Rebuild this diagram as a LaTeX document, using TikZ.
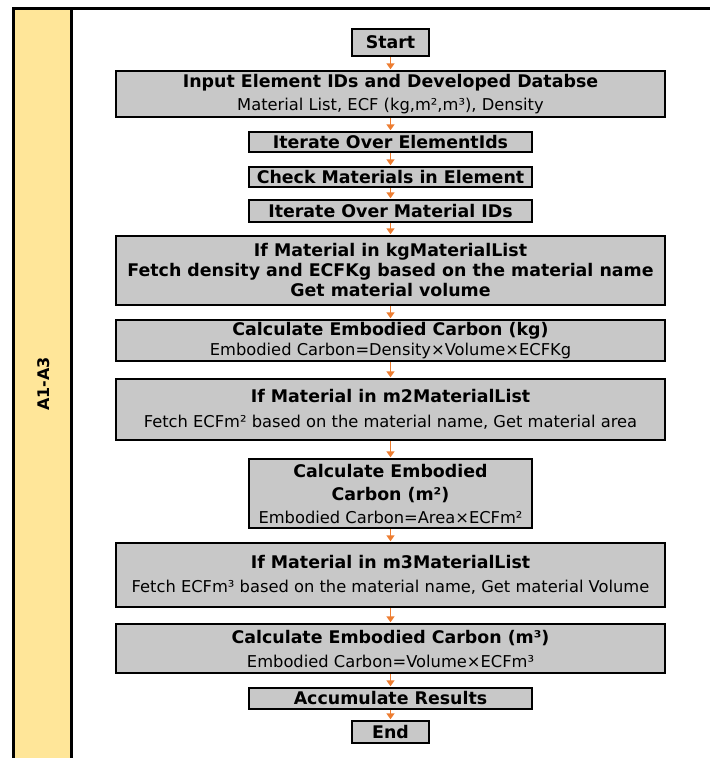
\documentclass[tikz,border=0pt]{standalone}
\usepackage{fontspec}
\setmainfont{DejaVu Sans}
\usetikzlibrary{arrows.meta}
\definecolor{lanefill}{RGB}{255,230,153}
\definecolor{boxfill}{RGB}{200,200,200}
\definecolor{flow}{RGB}{237,125,49}
\newcommand{\flowhead}{\fontsize{17.4}{20}\selectfont\bfseries}
\newcommand{\flowbody}{\fontsize{16.3}{20}\selectfont\mdseries}
\begin{document}
\begin{tikzpicture}[x=1pt,y=-1pt,
  stepbox/.style={draw=black, line width=2.4pt, fill=boxfill, inner sep=0pt,
    align=center, text=black, font=\flowbody},
  flowarrow/.style={draw=flow, line width=1.6pt,
    -{Triangle[width=8pt,length=6pt,fill=flow]}, shorten >=0.5pt}]
\useasboundingbox (0,0) rectangle (710,758);

% swimlane
\fill[lanefill] (13,8) rectangle (71,758);
\draw[line width=3pt] (13,758) -- (13,8) -- (710,8);
\draw[line width=3pt] (71,8) -- (71,758);
\node[rotate=90, font=\fontsize{16}{18}\selectfont\bfseries] (lane) at (44,384) {A1-A3};

% flowchart steps
\node[stepbox, minimum width=77pt, minimum height=27pt] (start) at (390.5,42.5)
  {\flowhead Start};
\node[stepbox, minimum width=549pt, minimum height=46pt] (input) at (390.5,94)
  {\flowhead Input Element IDs and Developed Databse\\[3pt]
   \flowbody Material List, ECF (kg,m²,m³), Density};
\node[stepbox, minimum width=283pt, minimum height=20pt] (iterel) at (390.5,142)
  {\flowhead Iterate Over ElementIds};
\node[stepbox, minimum width=283pt, minimum height=20pt] (check) at (390.5,177)
  {\flowhead Check Materials in Element};
\node[stepbox, minimum width=283pt, minimum height=22pt] (itermat) at (390.5,211)
  {\flowhead Iterate Over Material IDs};
\node[stepbox, minimum width=549pt, minimum height=69pt] (ifkg) at (390.5,270.5)
  {\flowhead If Material in kgMaterialList\\
   \flowhead Fetch density and ECFKg based on the material name\\
   \flowhead Get material volume};
\node[stepbox, minimum width=549pt, minimum height=41pt] (calckg) at (390.5,340.5)
  {\flowhead Calculate Embodied Carbon (kg)\\
   \flowbody Embodied Carbon=Density×Volume×ECFKg};
\node[stepbox, minimum width=549pt, minimum height=61pt] (ifmtwo) at (390.5,409.5)
  {\flowhead If Material in m2MaterialList\\[5pt]
   \flowbody Fetch ECFm² based on the material name, Get material area};
\node[stepbox, minimum width=283pt, minimum height=69pt] (calcmtwo) at (390.5,493.5)
  {\flowhead Calculate Embodied\\[3pt]
   \flowhead Carbon (m²)\\[3pt]
   \flowbody Embodied Carbon=Area×ECFm²};
\node[stepbox, minimum width=549pt, minimum height=64pt] (ifmthree) at (390.5,575)
  {\flowhead If Material in m3MaterialList\\[4pt]
   \flowbody Fetch ECFm³ based on the material name, Get material Volume};
\node[stepbox, minimum width=549pt, minimum height=49pt] (calcmthree) at (390.5,648.5)
  {\flowhead Calculate Embodied Carbon (m³)\\[4pt]
   \flowbody Embodied Carbon=Volume×ECFm³};
\node[stepbox, minimum width=283pt, minimum height=21pt] (accum) at (390.5,698.5)
  {\flowhead Accumulate Results};
\node[stepbox, minimum width=77pt, minimum height=22pt] (end) at (390.5,732)
  {\flowhead End};

% connectors
\draw[flowarrow] (start.south) -- (input.north);
\draw[flowarrow] (input.south) -- (iterel.north);
\draw[flowarrow] (iterel.south) -- (check.north);
\draw[flowarrow] (check.south) -- (itermat.north);
\draw[flowarrow] (itermat.south) -- (ifkg.north);
\draw[flowarrow] (ifkg.south) -- (calckg.north);
\draw[flowarrow] (calckg.south) -- (ifmtwo.north);
\draw[flowarrow] (ifmtwo.south) -- (calcmtwo.north);
\draw[flowarrow] (calcmtwo.south) -- (ifmthree.north);
\draw[flowarrow] (ifmthree.south) -- (calcmthree.north);
\draw[flowarrow] (calcmthree.south) -- (accum.north);
\draw[flowarrow] (accum.south) -- (end.north);
\end{tikzpicture}
\end{document}
